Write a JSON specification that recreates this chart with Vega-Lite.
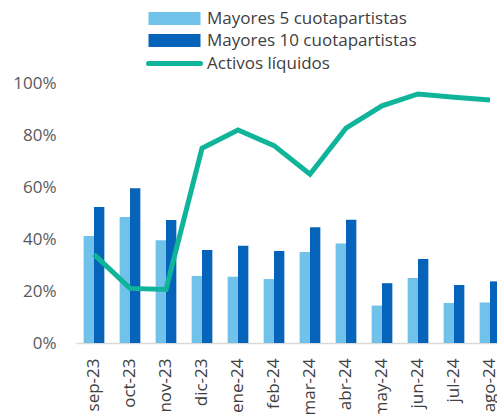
{
  "$schema": "https://vega.github.io/schema/vega-lite/v6.json",
  "width": 421,
  "height": 260,
  "autosize": {"type": "none"},
  "padding": {"left": 76, "top": 83, "right": 0, "bottom": 71},
  "background": "white",
  "config": {
    "view": {"stroke": null},
    "font": "Open Sans",
    "axis": {"labelFont": "Open Sans", "labelFontSize": 17, "labelColor": "#595959", "grid": false, "ticks": false, "title": null}
  },
  "data": {
    "values": [
      {"mes": "sep-23", "serie": "Mayores 5 cuotapartistas", "valor": 0.412},
      {"mes": "oct-23", "serie": "Mayores 5 cuotapartistas", "valor": 0.485},
      {"mes": "nov-23", "serie": "Mayores 5 cuotapartistas", "valor": 0.395},
      {"mes": "dic-23", "serie": "Mayores 5 cuotapartistas", "valor": 0.258},
      {"mes": "ene-24", "serie": "Mayores 5 cuotapartistas", "valor": 0.255},
      {"mes": "feb-24", "serie": "Mayores 5 cuotapartistas", "valor": 0.246},
      {"mes": "mar-24", "serie": "Mayores 5 cuotapartistas", "valor": 0.35},
      {"mes": "abr-24", "serie": "Mayores 5 cuotapartistas", "valor": 0.383},
      {"mes": "may-24", "serie": "Mayores 5 cuotapartistas", "valor": 0.144},
      {"mes": "jun-24", "serie": "Mayores 5 cuotapartistas", "valor": 0.25},
      {"mes": "jul-24", "serie": "Mayores 5 cuotapartistas", "valor": 0.154},
      {"mes": "ago-24", "serie": "Mayores 5 cuotapartistas", "valor": 0.156},
      {"mes": "sep-23", "serie": "Mayores 10 cuotapartistas", "valor": 0.523},
      {"mes": "oct-23", "serie": "Mayores 10 cuotapartistas", "valor": 0.595},
      {"mes": "nov-23", "serie": "Mayores 10 cuotapartistas", "valor": 0.473},
      {"mes": "dic-23", "serie": "Mayores 10 cuotapartistas", "valor": 0.358},
      {"mes": "ene-24", "serie": "Mayores 10 cuotapartistas", "valor": 0.374},
      {"mes": "feb-24", "serie": "Mayores 10 cuotapartistas", "valor": 0.354},
      {"mes": "mar-24", "serie": "Mayores 10 cuotapartistas", "valor": 0.445},
      {"mes": "abr-24", "serie": "Mayores 10 cuotapartistas", "valor": 0.474},
      {"mes": "may-24", "serie": "Mayores 10 cuotapartistas", "valor": 0.23},
      {"mes": "jun-24", "serie": "Mayores 10 cuotapartistas", "valor": 0.323},
      {"mes": "jul-24", "serie": "Mayores 10 cuotapartistas", "valor": 0.223},
      {"mes": "ago-24", "serie": "Mayores 10 cuotapartistas", "valor": 0.237},
      {"mes": "sep-23", "serie": "Activos líquidos", "valor": 0.341},
      {"mes": "oct-23", "serie": "Activos líquidos", "valor": 0.21},
      {"mes": "nov-23", "serie": "Activos líquidos", "valor": 0.206},
      {"mes": "dic-23", "serie": "Activos líquidos", "valor": 0.749},
      {"mes": "ene-24", "serie": "Activos líquidos", "valor": 0.819},
      {"mes": "feb-24", "serie": "Activos líquidos", "valor": 0.759},
      {"mes": "mar-24", "serie": "Activos líquidos", "valor": 0.649},
      {"mes": "abr-24", "serie": "Activos líquidos", "valor": 0.826},
      {"mes": "may-24", "serie": "Activos líquidos", "valor": 0.912},
      {"mes": "jun-24", "serie": "Activos líquidos", "valor": 0.958},
      {"mes": "jul-24", "serie": "Activos líquidos", "valor": 0.945},
      {"mes": "ago-24", "serie": "Activos líquidos", "valor": 0.935}
    ]
  },
  "encoding": {
    "x": {
      "field": "mes", "type": "nominal", "sort": null,
      "scale": {"range": [0, 432], "paddingInner": 0.425, "paddingOuter": 0.2125},
      "axis": {"labelAngle": -90, "labelPadding": 15, "domainColor": "#d9d9d9", "domainWidth": 1.5, "labelColor": "#404040"}
    },
    "y": {
      "field": "valor", "type": "quantitative",
      "scale": {"domain": [0, 1]},
      "axis": {"format": ".0%", "values": [0, 0.2, 0.4, 0.6, 0.8, 1], "domain": false, "labelPadding": 20}
    }
  },
  "layer": [
    {
      "transform": [{"filter": "datum.serie !== 'Activos líquidos'"}],
      "mark": {"type": "bar"},
      "encoding": {
        "xOffset": {"field": "serie", "type": "nominal", "scale": {"domain": ["Mayores 5 cuotapartistas", "Mayores 10 cuotapartistas"], "paddingInner": 0}},
        "color": {
          "field": "serie", "type": "nominal",
          "scale": {"domain": ["Mayores 5 cuotapartistas", "Mayores 10 cuotapartistas", "Activos líquidos"], "range": ["#71c2ea", "#0563b9", "#10b49b"]},
          "legend": {
            "title": null, "orient": "none", "legendX": 90, "legendY": -73,
            "padding": 0, "rowPadding": 4, "symbolSize": 169, "symbolStrokeWidth": 1.5,
            "labelOffset": 24, "labelFont": "Open Sans", "labelFontSize": 17, "labelColor": "#404040", "labelLimit": 0,
            "encode": {
              "symbols": {
                "update": {
                  "shape": {"signal": "datum.value === 'Activos líquidos' ? 'M-4,0H4' : 'M-4,-1H4V1H-4Z'"},
                  "fill": {"signal": "datum.value === 'Activos líquidos' ? 'transparent' : (datum.value === 'Mayores 5 cuotapartistas' ? '#71c2ea' : '#0563b9')"},
                  "stroke": {"signal": "datum.value === 'Activos líquidos' ? '#10b49b' : 'transparent'"},
                  "strokeWidth": {"signal": "datum.value === 'Activos líquidos' ? 5 : 0"},
                  "strokeCap": {"value": "round"},
                  "opacity": {"value": 1}
                }
              }
            }
          }
        }
      }
    },
    {
      "transform": [{"filter": "datum.serie === 'Activos líquidos'"}],
      "mark": {"type": "line", "strokeWidth": 5},
      "encoding": {
        "color": {"field": "serie", "type": "nominal"}
      }
    }
  ]
}
